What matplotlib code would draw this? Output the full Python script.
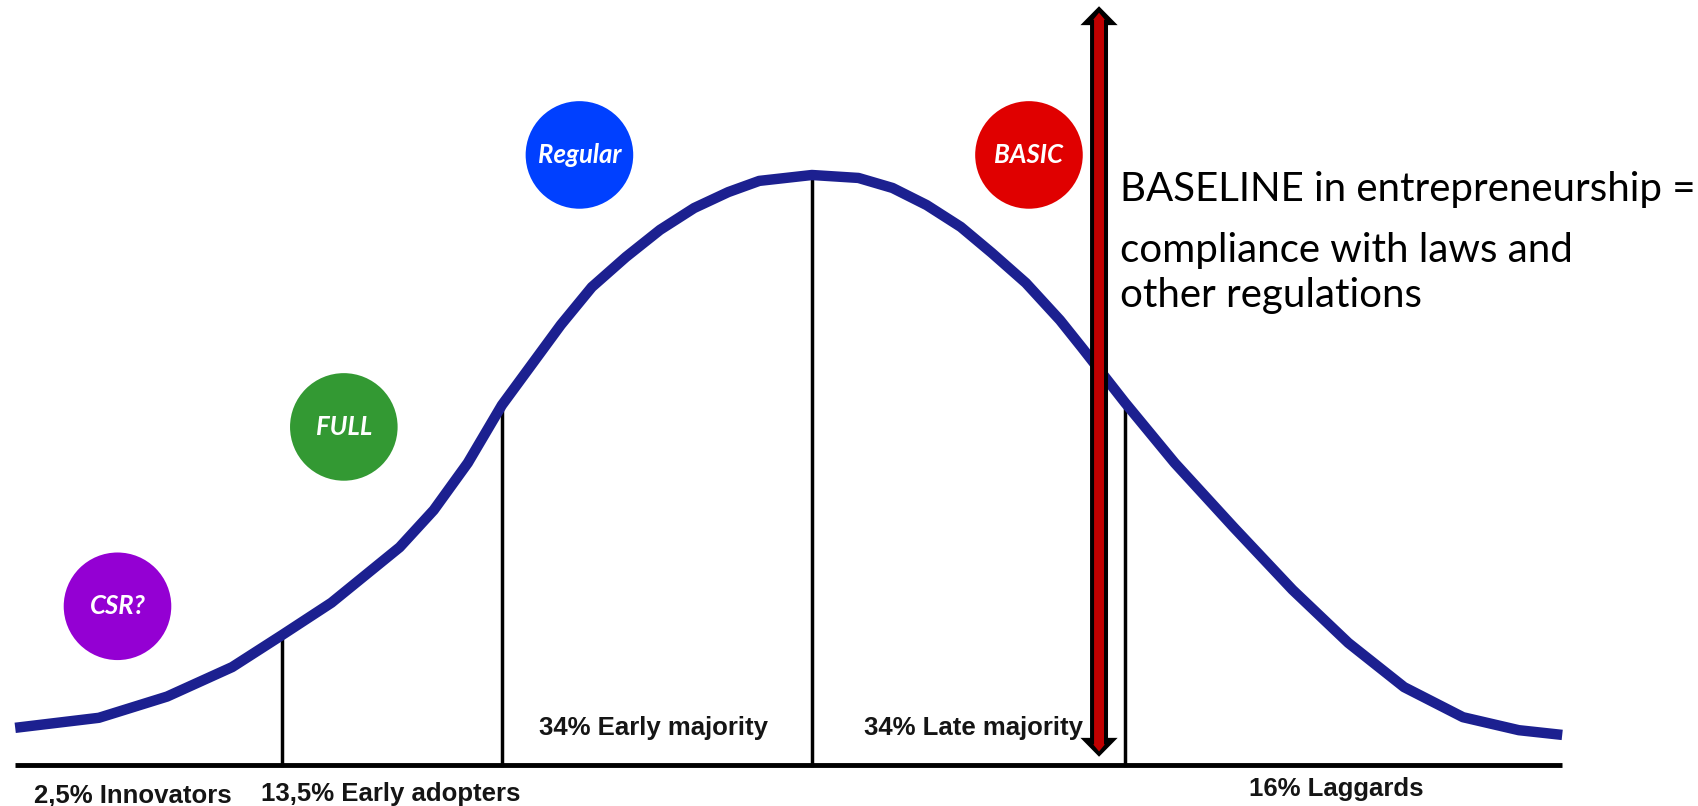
import matplotlib.pyplot as plt
from matplotlib.patches import Polygon
import numpy as np

# bell curve
# x = distance from the mean in standard deviations, y = height in % of the peak
curve_x = [-2.57, -2.30, -2.08, -1.87, -1.71, -1.55, -1.33, -1.22, -1.11, -1.00,
           -0.81, -0.71, -0.60, -0.49, -0.38, -0.27, -0.17, 0.00, 0.15, 0.26,
           0.37, 0.48, 0.58, 0.69, 0.80, 0.87, 1.01, 1.17, 1.36, 1.55,
           1.73, 1.91, 2.10, 2.28, 2.42]
curve_y = [6.3, 8.0, 11.6, 16.6, 22.0, 27.5, 36.9, 43.2, 51.2, 61.0,
           74.6, 81.0, 86.1, 90.7, 94.4, 97.1, 99.0, 100.0, 99.5, 97.8,
           94.9, 91.2, 86.8, 81.7, 75.4, 70.8, 61.4, 51.2, 40.3, 29.7,
           20.7, 13.2, 8.1, 5.9, 5.1]

# where the groups are split
boundaries = [-1.71, -1.00, 0.00, 1.01]

segment_labels = ['2,5% Innovators', '13,5% Early adopters', '34% Early majority',
                  '34% Late majority', '16% Laggards']
segment_x = [-2.19, -1.36, -0.51, 0.52, 1.69]
segment_y = [-5.3, -5.0, 6.3, 6.3, -4.1]

circle_labels = ['CSR?', 'FULL', 'Regular', 'BASIC']
circle_x = [-2.24, -1.51, -0.75, 0.70]
circle_y = [26.9, 57.3, 103.4, 103.4]
circle_colors = ['#9400d3', '#339933', '#0040ff', '#e00000']

baseline_text = 'BASELINE in entrepreneurship ='
baseline_text2 = 'compliance with laws and\nother regulations'

# the double arrow marking the baseline
arrow_x = 0.926
arrow_bottom = 1.4
arrow_top = 128.6


def double_arrow(ax, x, y0, y1, half_w, head_w, head_len, color):
    # polygon of a vertical arrow with a head at both ends
    pts = [(x, y1), (x + head_w, y1 - head_len), (x + half_w, y1 - head_len),
           (x + half_w, y0 + head_len), (x + head_w, y0 + head_len), (x, y0),
           (x - head_w, y0 + head_len), (x - half_w, y0 + head_len),
           (x - half_w, y1 - head_len), (x - head_w, y1 - head_len)]
    ax.add_patch(Polygon(pts, closed=True, facecolor=color, edgecolor='none', zorder=6))


fig = plt.figure(figsize=(16.98, 8.06), dpi=100)
ax = fig.add_axes([0, 0, 1, 1])
ax.set_xlim(-2.619, 2.858)
ax.set_ylim(-6.95, 129.66)
ax.axis('off')

# baseline and the group separators
ax.plot([curve_x[0], curve_x[-1]], [0, 0], color='black', lw=3.5, solid_capstyle='butt', zorder=2)
for b in boundaries:
    top = np.interp(b, curve_x, curve_y)
    ax.plot([b, b], [0, top], color='black', lw=2.5, zorder=2)

# the curve
ax.plot(curve_x, curve_y, color='#1c2090', lw=7.5, solid_joinstyle='round',
        solid_capstyle='butt', zorder=3)

# group names
for lab, x, y in zip(segment_labels, segment_x, segment_y):
    ax.text(x, y, lab, ha='center', va='center', fontsize=18.5, fontweight='bold',
            family='Liberation Sans', color='#151515', zorder=4)

# coloured circles
ax.scatter(circle_x, circle_y, s=6000, c=circle_colors, edgecolors='none', zorder=5)
for lab, x, y in zip(circle_labels, circle_x, circle_y):
    ax.text(x, y, lab, ha='center', va='center', fontsize=18.5, fontweight='bold',
            style='italic', family='Lato', color='white', zorder=6)

# double arrow: black outline with red core
double_arrow(ax, arrow_x, arrow_bottom, arrow_top, 0.029, 0.060, 3.2, 'black')
double_arrow(ax, arrow_x, arrow_bottom + 0.9, arrow_top - 1.1, 0.016, 0.019, 1.2, '#c00000')

ax.text(0.994, 97.5, baseline_text, ha='left', va='center', fontsize=29, family='Lato')
ax.text(0.994, 83.4, baseline_text2, ha='left', va='center', fontsize=29, family='Lato',
        linespacing=1.28)

fig.savefig('out.png', dpi=100)
